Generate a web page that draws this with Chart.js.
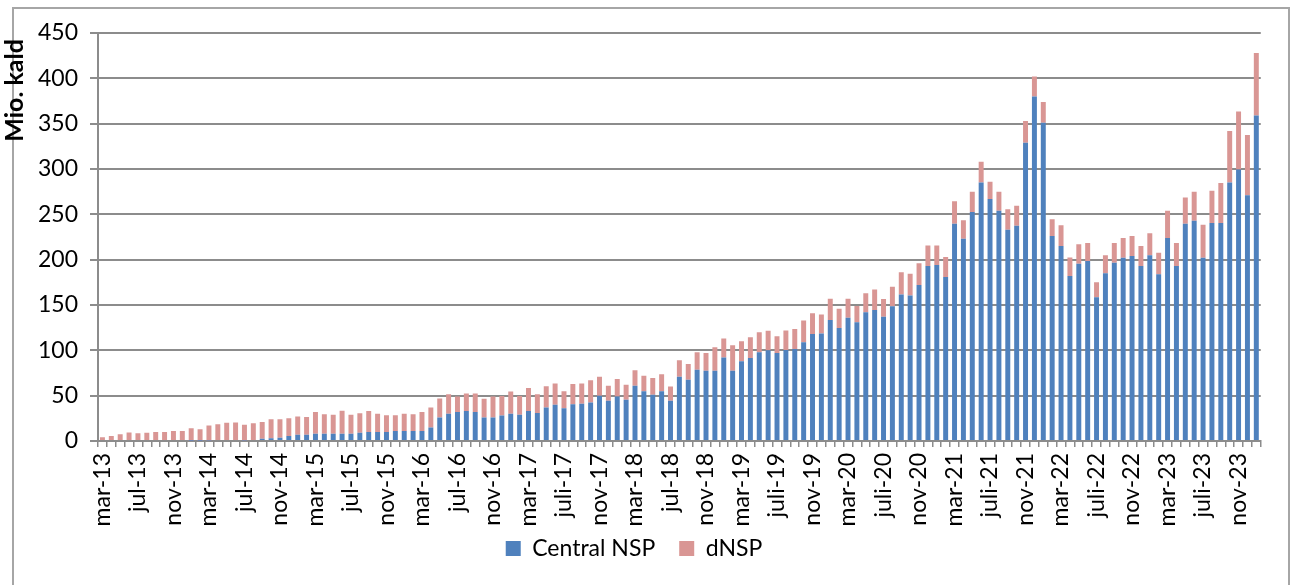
<!DOCTYPE html>
<html>
<head>
<meta charset="utf-8">
<script src="https://cdn.jsdelivr.net/npm/chart.js@4"></script>
<style>
  body { margin: 0; background: #fff; }
  #frame { position: absolute; left: 12px; top: 7px; width: 1274px; height: 600px; border: 2px solid #a6a6a6; }
  #wrap { position: absolute; left: 0; top: 0; width: 1290px; height: 585px; }
</style>
</head>
<body>
<div id="frame"></div>
<div id="wrap"><canvas id="nspChart" width="1290" height="585"></canvas></div>
<script>
// Monthly values, mar-13 .. jan-24 (Mio. kald)
const centralNsp = [
  0, 0, 0, 0, 0, 0, 0, 0, 0, 0,
  0.3, 0.3, 0.5, 1, 1, 1, 0.5, 1, 2.5, 3,
  3.5, 5.5, 7, 7, 8, 8, 8, 8, 8, 9,
  10, 10, 10, 11, 11, 11, 11, 15, 26, 30,
  32, 33, 32, 26, 26, 28, 30, 29, 33, 31,
  37, 40, 36, 40.5, 41, 42.5, 50, 44.5, 49, 45.5,
  61, 55, 51, 55, 44.5, 71, 67.5, 78.5, 77.5, 77.5,
  92, 77.5, 88, 91.5, 98, 100, 97, 100.5, 101.5, 109,
  118, 118.5, 133.5, 124.5, 136, 131, 142, 144.5, 137, 148.5,
  161.5, 160.5, 172, 193, 194, 181, 239.5, 223, 252.5, 285,
  267, 254, 233, 237.5, 329, 380, 351, 226, 215, 182,
  195.5, 198.5, 158.5, 185, 196.5, 202, 204, 193, 205, 184,
  224, 193, 239.5, 243, 202, 240.5, 240.5, 285, 299.5, 271,
  359
];
const dNsp = [
  4, 5.5, 7.5, 9.5, 8.5, 9, 10, 10, 11, 11,
  13.7, 12.7, 16.5, 17.5, 19, 19.5, 17.5, 18.5, 18.5, 21,
  20.5, 19.5, 20, 19.5, 24, 21.5, 21, 25.5, 21, 21.5,
  23, 20, 18.5, 17.5, 19, 18.5, 21, 22, 21, 21.5,
  17, 19.5, 20.5, 20.5, 23, 21.5, 24.5, 20.5, 25.5, 20.5,
  23.5, 23.5, 19, 22.5, 22.5, 24.5, 21, 16.5, 19.5, 16.5,
  17, 17, 18.5, 18.5, 15.5, 18, 17.5, 19.5, 19.5, 26,
  21, 28, 22, 23, 22, 21.5, 18.5, 21.5, 22, 24,
  23, 21, 23.5, 21.5, 21, 18, 21, 22.5, 19.5, 21.5,
  24.5, 24, 24, 22.5, 21.5, 22, 25, 20.5, 22.5, 23,
  19, 21, 22.5, 22, 24, 22, 23, 18.5, 23, 20.5,
  21.5, 20, 16.5, 20, 22, 22, 22, 22, 24, 23.5,
  30, 25.5, 29, 32, 36.5, 35.5, 44, 57, 64, 66.5,
  69
];
// Every 4th month gets a label
const tickLabels = [
  "mar-13", "jul-13", "nov-13", "mar-14", "jul-14", "nov-14", "mar-15", "jul-15", "nov-15",
  "mar-16", "jul-16", "nov-16", "mar-17", "juli-17", "nov-17", "mar-18", "jul-18", "nov-18",
  "mar-19", "juli-19", "nov-19", "mar-20", "juli-20", "nov-20", "mar-21", "juli-21", "nov-21",
  "mar-22", "juli-22", "nov-22", "mar-23", "juli-23", "nov-23"
];
const monthNames = ["jan", "feb", "mar", "apr", "maj", "jun", "jul", "aug", "sep", "okt", "nov", "dec"];

// category names mar-13 .. jan-24
const months = [];
for (let i = 0; i < centralNsp.length; i++) {
  const m = (2 + i) % 12;
  const y = 13 + Math.floor((2 + i) / 12);
  months.push(monthNames[m] + "-" + y);
}

const gridGrey = "#8c8c8c";
Chart.defaults.font.family = "Lato, 'Open Sans', sans-serif";
Chart.defaults.color = "#000";

// pull the legend up a bit so it sits just under the month labels
const liftLegend = {
  id: "liftLegend",
  afterLayout(chart) {
    chart.legend.top -= 15;
    chart.legend.bottom -= 15;
  }
};

new Chart(document.getElementById("nspChart"), {
  type: "bar",
  data: {
    labels: months,
    datasets: [
      { label: "Central NSP", data: centralNsp, backgroundColor: "#4f81bd", borderWidth: 0 },
      { label: "dNSP", data: dNsp, backgroundColor: "#d99694", borderWidth: 0 }
    ]
  },
  plugins: [liftLegend],
  options: {
    responsive: false,
    animation: false,
    layout: { padding: { left: 0, right: 22, top: 33, bottom: 0 } },
    datasets: { bar: { categoryPercentage: 1, barPercentage: 0.56 } },
    plugins: {
      tooltip: { enabled: false },
      legend: {
        position: "bottom",
        labels: { boxWidth: 15, boxHeight: 15, padding: 24, font: { size: 23 } }
      }
    },
    scales: {
      x: {
        stacked: true,
        afterFit: s => { s.height = 87; },
        grid: { drawOnChartArea: false, drawTicks: true, tickLength: 6, color: gridGrey, lineWidth: 1.5 },
        border: { color: gridGrey, width: 2 },
        ticks: {
          autoSkip: false, minRotation: 90, maxRotation: 90, padding: 6,
          font: { size: 23 },
          callback: (val, i) => (i % 4 === 0 ? tickLabels[i / 4] : "")
        }
      },
      y: {
        stacked: true,
        min: 0,
        max: 450,
        afterFit: s => { s.width = 98; },
        grid: { color: gridGrey, lineWidth: 2, tickLength: 8 },
        border: { color: gridGrey, width: 2 },
        ticks: { stepSize: 50, padding: 12, font: { size: 23 } },
        title: {
          display: true, text: "Mio. kald ", align: "end",
          font: { size: 25, weight: "bold" }, padding: { top: 0, bottom: 0 }
        }
      }
    }
  }
});
</script>
</body>
</html>
